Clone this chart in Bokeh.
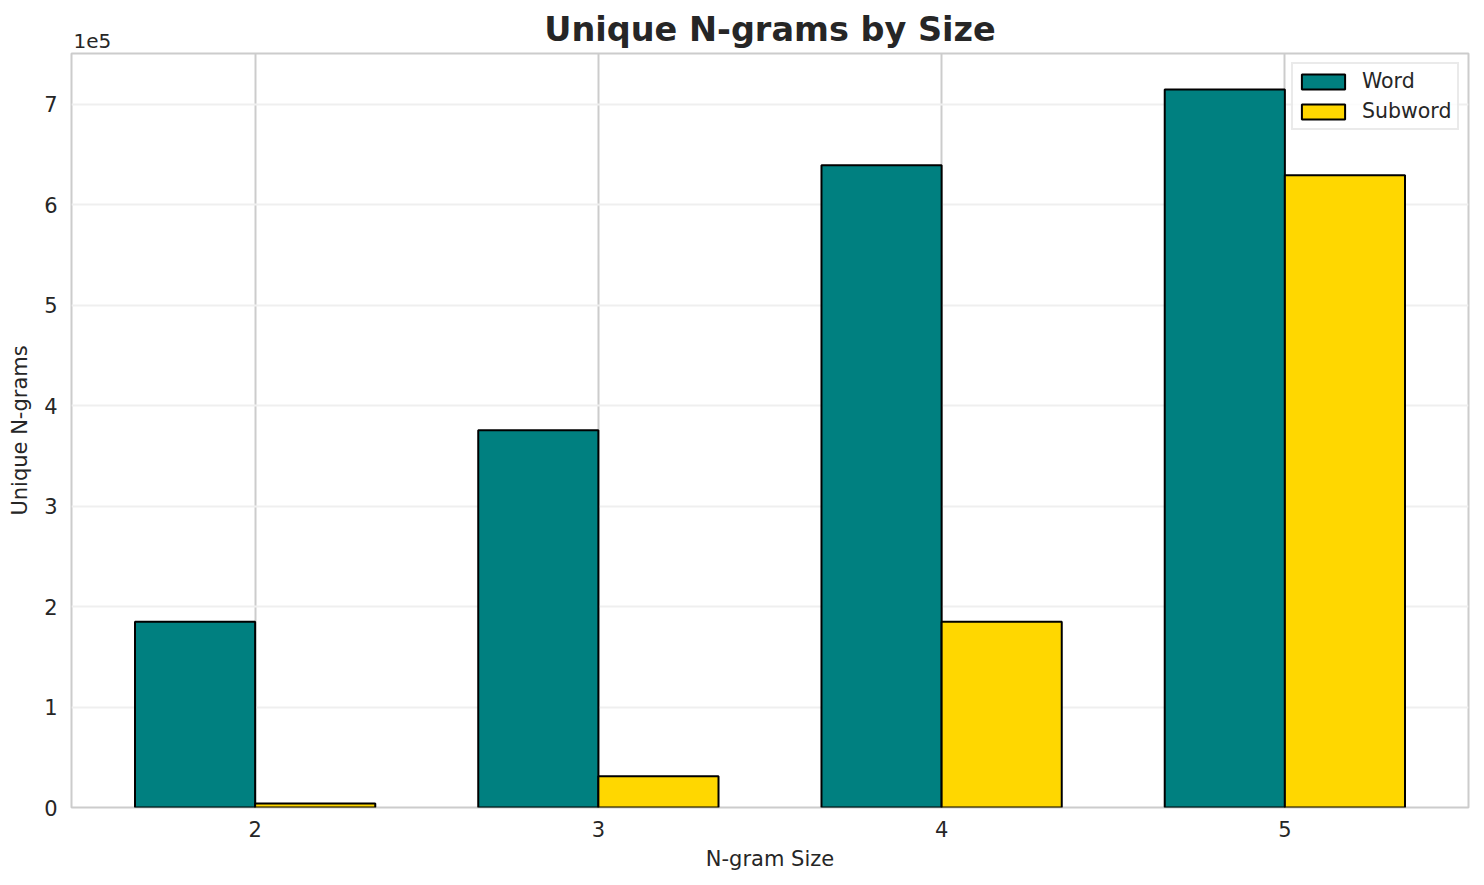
from bokeh.embed import file_html
from bokeh.resources import INLINE
from bokeh.plotting import figure
from bokeh.models import (ColumnDataSource, FixedTicker, CustomJSTickFormatter,
                          Range1d, Title, Legend, LegendItem)
from bokeh.transform import dodge

# Defining Chart Data
sizes = [2, 3, 4, 5]
word_counts = [185000, 375500, 639500, 715000]
subword_counts = [4000, 31000, 185000, 629500]
y_ticks = [0, 100000, 200000, 300000, 400000, 500000, 600000, 700000]

FONT = "DejaVu Sans"
TEXT = "#262626"

src = ColumnDataSource(data=dict(size=sizes, word=word_counts, subword=subword_counts))

# Creating Plot Figure
p = figure(
    frame_width=1397, frame_height=754,
    min_border_left=71, min_border_right=16,
    min_border_top=53, min_border_bottom=70,
    x_range=Range1d(1.465, 5.535),
    y_range=Range1d(0, 750750),
    output_backend="svg",
    toolbar_location=None,
)

# "1e5" offset text sits right above the frame, the title above that
p.add_layout(Title(text="1e5", align="left", offset=2, standoff=12,
                   text_font=FONT, text_font_size="20px",
                   text_font_style="normal", text_color=TEXT), "above")
p.add_layout(Title(text="Unique N-grams by Size", align="center", standoff=-46,
                   text_font=FONT, text_font_size="33.5px",
                   text_font_style="bold", text_color=TEXT), "above")

bar_w = 0.35
r_word = p.vbar(x=dodge("size", -bar_w / 2), top="word", width=bar_w, source=src,
                fill_color="#008080", line_color="black", line_width=2)
r_sub = p.vbar(x=dodge("size", bar_w / 2), top="subword", width=bar_w, source=src,
               fill_color="#FFD700", line_color="black", line_width=2)

# axes
p.xaxis.ticker = FixedTicker(ticks=sizes)
p.yaxis.ticker = FixedTicker(ticks=y_ticks)
p.yaxis.formatter = CustomJSTickFormatter(code="return (tick / 1e5).toFixed(0);")
for ax in (p.xaxis, p.yaxis):
    ax.axis_line_color = None
    ax.major_tick_line_color = None
    ax.minor_tick_line_color = None
    ax.major_tick_out = 0
    ax.major_tick_in = 0
    ax.minor_tick_out = 0
    ax.major_label_text_font = FONT
    ax.major_label_text_font_size = "21px"
    ax.major_label_text_color = TEXT
    ax.axis_label_text_font = FONT
    ax.axis_label_text_font_size = "21px"
    ax.axis_label_text_font_style = "normal"
    ax.axis_label_text_color = TEXT
p.xaxis.axis_label = "N-gram Size"
p.yaxis.axis_label = "Unique N-grams"
p.xaxis.major_label_standoff = 13
p.yaxis.major_label_standoff = 14
p.xaxis.axis_label_standoff = 7
p.yaxis.axis_label_standoff = 9

# grid
p.xgrid.grid_line_color = "#cccccc"
p.xgrid.grid_line_width = 2
p.ygrid.grid_line_color = "#efefef"
p.ygrid.grid_line_width = 2
p.outline_line_color = "#cccccc"
p.outline_line_width = 2

legend = Legend(items=[LegendItem(label="Word", renderers=[r_word]),
                       LegendItem(label="Subword", renderers=[r_sub])],
                location="top_right", margin=9, padding=3, spacing=2,
                glyph_width=54, glyph_height=19, label_height=28,
                label_width=92, label_standoff=12,
                label_text_font=FONT, label_text_font_size="20.5px",
                label_text_color=TEXT,
                border_line_color="#d6d6d6", border_line_width=2,
                background_fill_alpha=0.8)
p.add_layout(legend)

open("out.html", "w").write(file_html(p, INLINE))
